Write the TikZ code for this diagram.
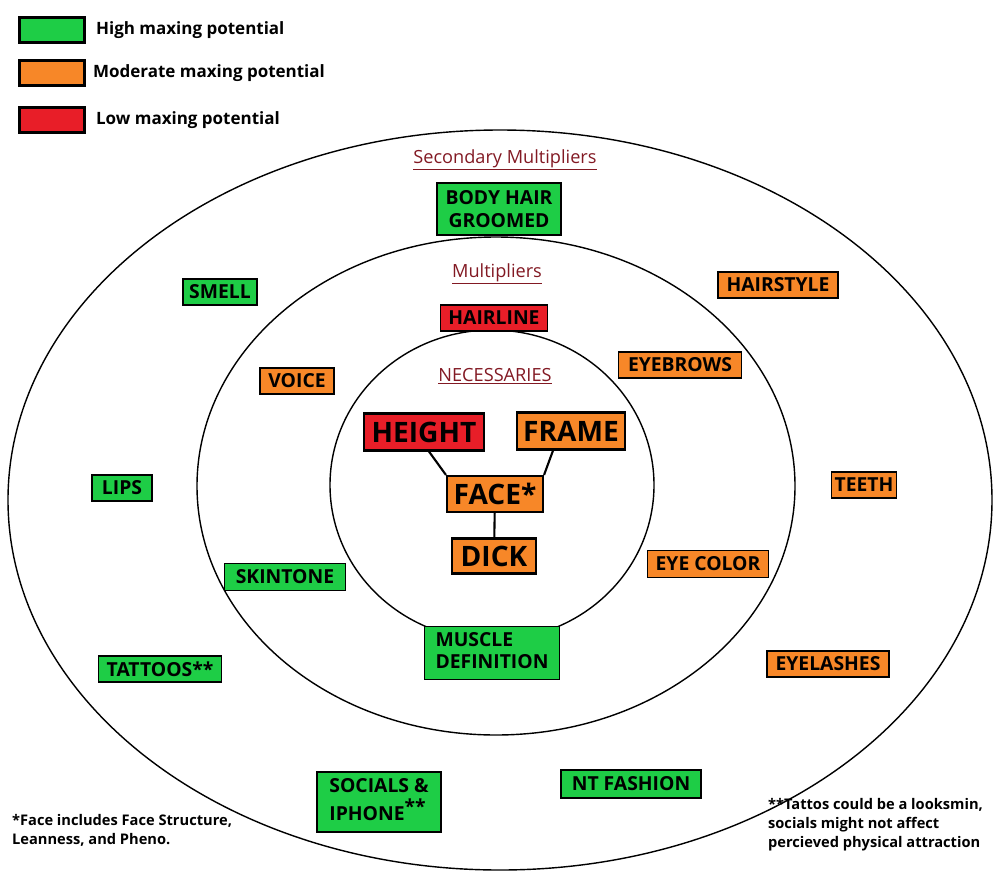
\documentclass[tikz,border=0pt]{standalone}
\usepackage{fontspec}
\setmainfont{Open Sans}
\definecolor{gr}{RGB}{30,205,70}
\definecolor{orn}{RGB}{247,135,40}
\definecolor{rd}{RGB}{232,30,40}
\definecolor{dr}{RGB}{130,25,35}
\begin{document}
\begin{tikzpicture}[x=0.3mm,y=-0.3mm,
 box/.style={draw=black,line width=1.6pt,inner sep=0pt,font=\bfseries\fontsize{16.5}{19}\selectfont,align=center},
 big/.style={box,line width=1.8pt,font=\bfseries\fontsize{24}{27}\selectfont},
 ttl/.style={text=dr,font=\fontsize{15.5}{18}\selectfont},
 leg/.style={font=\bfseries\fontsize{14.5}{17}\selectfont,anchor=west},
 note/.style={font=\bfseries\fontsize{12.5}{16.5}\selectfont,align=left,anchor=north west},
 ring/.style={draw=black,line width=1.2pt}]
\useasboundingbox (0,0) rectangle (1000,895);
\draw[ring] (500,500) ellipse [x radius=492,y radius=370];
\draw[ring] (496,486) ellipse [x radius=299,y radius=249];
\draw[ring] (492,485) ellipse [x radius=162,y radius=155];
% legend
\node[box,line width=2.2pt,fill=gr,minimum width=65*0.3mm,minimum height=25*0.3mm] (lg) at (52,30) {};
\node[box,line width=2.2pt,fill=orn,minimum width=65*0.3mm,minimum height=25*0.3mm] (lo) at (52,73) {};
\node[box,line width=2.2pt,fill=rd,minimum width=65*0.3mm,minimum height=25*0.3mm] (lr) at (52,120) {};
\node[leg] (tg) at (92,30) {High maxing potential};
\node[leg] (to) at (89,73) {Moderate maxing potential};
\node[leg] (tr) at (92,120) {Low maxing potential};
% titles
\node[ttl] (t1) at (505,160) {\underline{Secondary Multipliers}};
\node[ttl] (t2) at (497,274) {\underline{Multipliers}};
\node[ttl] (t3) at (495,376) {\underline{NECESSARIES}};
% boxes
\newcommand\bx[8][box]{\node[#1,fill=#7,minimum width=#5*0.3mm,minimum height=#6*0.3mm] (#2) at (#3,#4) {#8};}
\bx{bh}{499}{209}{124}{52}{gr}{BODY HAIR\\GROOMED}
\bx{smell}{220}{292}{74}{26}{gr}{SMELL}
\bx{hairst}{778}{285}{120}{26}{orn}{HAIRSTYLE}
\bx{hairl}{494}{318}{107}{26}{rd}{HAIRLINE}
\bx{brows}{680}{365}{123}{26}{orn}{EYEBROWS}
\bx{voice}{297}{381}{74}{26}{orn}{VOICE}
\bx[big]{height}{424}{432}{120}{37}{rd}{HEIGHT}
\bx[big]{frame}{571}{431}{108}{37}{orn}{FRAME}
\bx[big]{face}{495}{494}{96}{36}{orn}{FACE*}
\bx[big]{dick}{494}{556}{84}{35}{orn}{DICK}
\bx{lips}{122}{488}{60}{26}{gr}{LIPS}
\bx{teeth}{864}{485}{65}{26}{orn}{TEETH}
\bx{skin}{285}{577}{121}{27}{gr}{SKINTONE}
\bx{eyec}{708}{564}{121}{27}{orn}{EYE COLOR}
\bx{muscle}{492}{653}{135}{53}{gr}{\begin{tabular}{@{}l@{}}MUSCLE\\DEFINITION\end{tabular}}
\bx{tat}{160}{669}{123}{26}{gr}{TATTOOS**}
\bx{lash}{828}{664}{122}{26}{orn}{EYELASHES}
\bx{soc}{379}{802}{124}{60}{gr}{\begin{tabular}{@{}l@{}}SOCIALS \&\\IPHONE$^{\textbf{**}}$\end{tabular}}
\bx{nt}{631}{784}{140}{28}{gr}{NT FASHION}
\draw[line width=1.8pt] (height.south) ++(5,0) -- (face.north west);
\draw[line width=1.8pt] (frame.south) ++(-18,0) -- (face.north east);
\draw[line width=1.8pt] (face) -- (dick);
\node[note] (n1) at (8,810) {*Face includes Face Structure,\\Leanness, and Pheno.};
\node[note] (n2) at (764,794) {**Tattos could be a looksmin,\\socials might not affect\\percieved physical attraction};
\end{tikzpicture}
\end{document}
